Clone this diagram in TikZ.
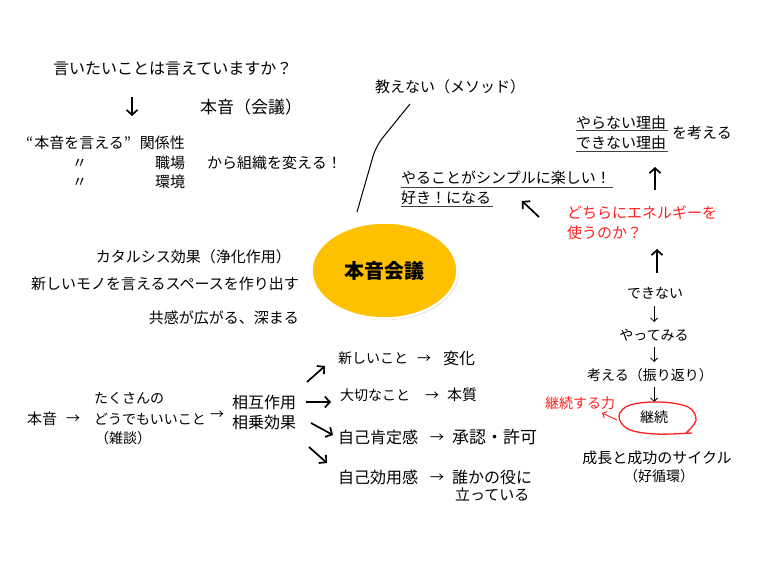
\documentclass[tikz,border=0pt]{standalone}
\usepackage{fontspec}
\setmainfont{Noto Sans CJK JP}
\usetikzlibrary{arrows.meta,shapes.geometric,shadows}
\definecolor{gold}{HTML}{FFC000}
\definecolor{redtxt}{HTML}{FF2020}
\tikzset{
  t14/.style={font=\fontsize{14}{14}\selectfont, inner sep=0pt, text height=12.3pt, text depth=1.7pt},
  t15/.style={font=\fontsize{15}{15}\selectfont, inner sep=0pt, text height=13.2pt, text depth=1.8pt},
  t16/.style={font=\fontsize{16}{16}\selectfont, inner sep=0pt, text height=14.1pt, text depth=1.9pt},
  t17/.style={font=\fontsize{17}{17}\selectfont, inner sep=0pt, text height=15pt, text depth=2pt},
  bigarrow/.style={line width=1.7pt, -{Straight Barb[length=5pt,width=11pt]}},
  thinarrow/.style={line width=0.8pt, -{Straight Barb[length=3.5pt,width=7pt]}},
  uline/.style={line width=1pt, draw=black!75},
  redt/.style={text=redtxt},
}
\begin{document}
\begin{tikzpicture}[x=1pt,y=-1pt]
\fill[white] (0,0) rectangle (760,570);
\useasboundingbox (0,0) rectangle (760,570);

% top-left block
\node[t16,anchor=west] (q) at (53,68) {言いたいことは言えていますか？};
\coordinate (qa1) at (132,97);
\coordinate (qa2) at (132,116);
\draw[bigarrow] (qa1) -- (qa2);
\node[t17,anchor=west] (honkai) at (200,107) {本音（会議）};
\node[t15,anchor=west] (rel) at (26,143) {“\hspace{1pt}本音を言える”\hspace{9pt}関係性};
\node[t15,anchor=west] (d1) at (72,163) {〃};
\node[t15,anchor=west] (d2) at (72,182) {〃};
\node[t15,anchor=west] (shoku) at (155,163) {職場};
\node[t15,anchor=west] (kankyo) at (155,182) {環境};
\node[t15,anchor=west] (kara) at (207,163) {から組織を変える！};

% teaching line
\node[t15,anchor=west] (oshie) at (375,87) {教えない（メソッド）};
\coordinate (c1) at (357,212);
\coordinate (c2) at (376,146);
\coordinate (c3) at (410,104);
\draw[line width=1pt, rounded corners=10pt] (c1) -- (c2) -- (c3);

% central ellipse
\node[ellipse, fill=gold, draw=white, line width=2.5pt, minimum width=146pt, minimum height=96pt,
      drop shadow={opacity=0.3, shadow xshift=1.5pt, shadow yshift=-1.5pt},
      font=\fontsize{20}{20}\selectfont\bfseries] (main) at (384.5,270.5) {本音会議};

% left middle texts
\node[t15,anchor=east] (kataru) at (291,257) {カタルシス効果（浄化作用）};
\node[t15,anchor=east] (space) at (299,284) {新しいモノを言えるスペースを作り出す};
\node[t15,anchor=east] (kyokan) at (299,318) {共感が広がる、深まる};

% upper right
\node[t15,anchor=west] (tano) at (401,178) {やることがシンプルに楽しい！};
\node[t15,anchor=west] (suki) at (401,198) {好き！になる};
\draw[uline] ([yshift=-1.5pt]tano.south west) -- ([xshift=2pt,yshift=-1.5pt]tano.south east);
\draw[uline] ([yshift=-0.5pt]suki.south west) -- ([xshift=2pt,yshift=-0.5pt]suki.south east);
\node[t15,anchor=west] (yaranai) at (576,123) {やらない理由};
\node[t15,anchor=west] (dekinair) at (576,143) {できない理由};
\draw[uline] ([yshift=0pt]yaranai.south west) -- ([xshift=2pt]yaranai.south east);
\draw[uline] ([yshift=-0.5pt]dekinair.south west) -- ([xshift=2pt,yshift=-0.5pt]dekinair.south east);
\node[t15,anchor=west] (kangaeru) at (672,133) {を考える};

\coordinate (ua1) at (655,190);
\coordinate (ua2) at (655,167);
\draw[bigarrow] (ua1) -- (ua2);
\coordinate (la1) at (539,217);
\coordinate (la2) at (522,201);
\draw[bigarrow] (la1) -- (la2);

\node[t15,anchor=west,redt] (dochira) at (567,213) {どちらにエネルギーを};
\node[t15,anchor=west,redt] (tsukau) at (567,233) {使うのか？};

\coordinate (ma1) at (657,273);
\coordinate (ma2) at (657,249);
\draw[bigarrow] (ma1) -- (ma2);

% right column
\node[t14] (dekinai) at (655,293) {できない};
\node[t14] (yatte) at (654,335) {やってみる};
\node[t14] (kangae) at (650,375) {考える（振り返り）};
\node[t14] (keizoku) at (654,417) {継続};
\coordinate (s1a) at (654,306); \coordinate (s1b) at (654,322);
\coordinate (s2a) at (654,347); \coordinate (s2b) at (654,362);
\coordinate (s3a) at (654,387); \coordinate (s3b) at (654,402);
\draw[thinarrow] (s1a) -- (s1b);
\draw[thinarrow] (s2a) -- (s2b);
\draw[thinarrow] (s3a) -- (s3b);
\draw[redtxt, line width=1.3pt] plot[smooth, tension=0.6] coordinates {
  (686,433) (696,420) (688,407) (660,402) (630,405) (619,416) (628,429) (655,434) (692,433)};
\node[t14,anchor=west,redt] (keizokuchikara) at (545,403) {継続する力};
\coordinate (ra1) at (617,420);
\coordinate (ra2) at (602,413);
\draw[redtxt, line width=0.9pt, -{Straight Barb[length=3.5pt,width=7pt]}] (ra1) -- (ra2);
\node[t15] (seicho) at (657,458) {成長と成功のサイクル};
\node[t14] (kojun) at (659,476) {（好循環）};

% bottom left
\node[t15,anchor=west] (honne3) at (27,419) {本音};
\node[t14] (ar1) at (73,418) {→};
\node[t14,anchor=west] (takusan) at (94,398) {たくさんの};
\node[t14,anchor=west] (dodemo) at (94,419) {どうでもいいこと};
\node[t14,anchor=west] (zatsu) at (95,438) {（雑談）};
\node[t14] (ar2) at (217,414) {→};
\node[t16,anchor=west] (sogo) at (232,402) {相互作用};
\node[t16,anchor=west] (sojo) at (232,422) {相乗効果};

\coordinate (b1a) at (307,382); \coordinate (b1b) at (325,366);
\coordinate (b2a) at (306,402); \coordinate (b2b) at (331,402);
\coordinate (b3a) at (311,423); \coordinate (b3b) at (333,435);
\coordinate (b4a) at (309,447); \coordinate (b4b) at (327,463);
\draw[bigarrow] (b1a) -- (b1b);
\draw[bigarrow] (b2a) -- (b2b);
\draw[bigarrow] (b3a) -- (b3b);
\draw[bigarrow] (b4a) -- (b4b);

% bottom right list
\node[t14,anchor=west] (r1a) at (338,358) {新しいこと};
\node[t14] (r1x) at (424,358) {→};
\node[t16,anchor=west] (r1b) at (443,358) {変化};
\node[t14,anchor=west] (r2a) at (340,395) {大切なこと};
\node[t14] (r2x) at (432,395) {→};
\node[t15,anchor=west] (r2b) at (447,395) {本質};
\node[t16,anchor=west] (r3a) at (338,437) {自己肯定感};
\node[t14] (r3x) at (437,437) {→};
\node[t17,anchor=west] (r3b) at (452,437) {承認・許可};
\node[t16,anchor=west] (r4a) at (338,477) {自己効用感};
\node[t14] (r4x) at (437,477) {→};
\node[t16,anchor=west] (r4b) at (452,477) {誰かの役に};
\node[t15,anchor=west] (r4c) at (455,495) {立っている};
\end{tikzpicture}
\end{document}
